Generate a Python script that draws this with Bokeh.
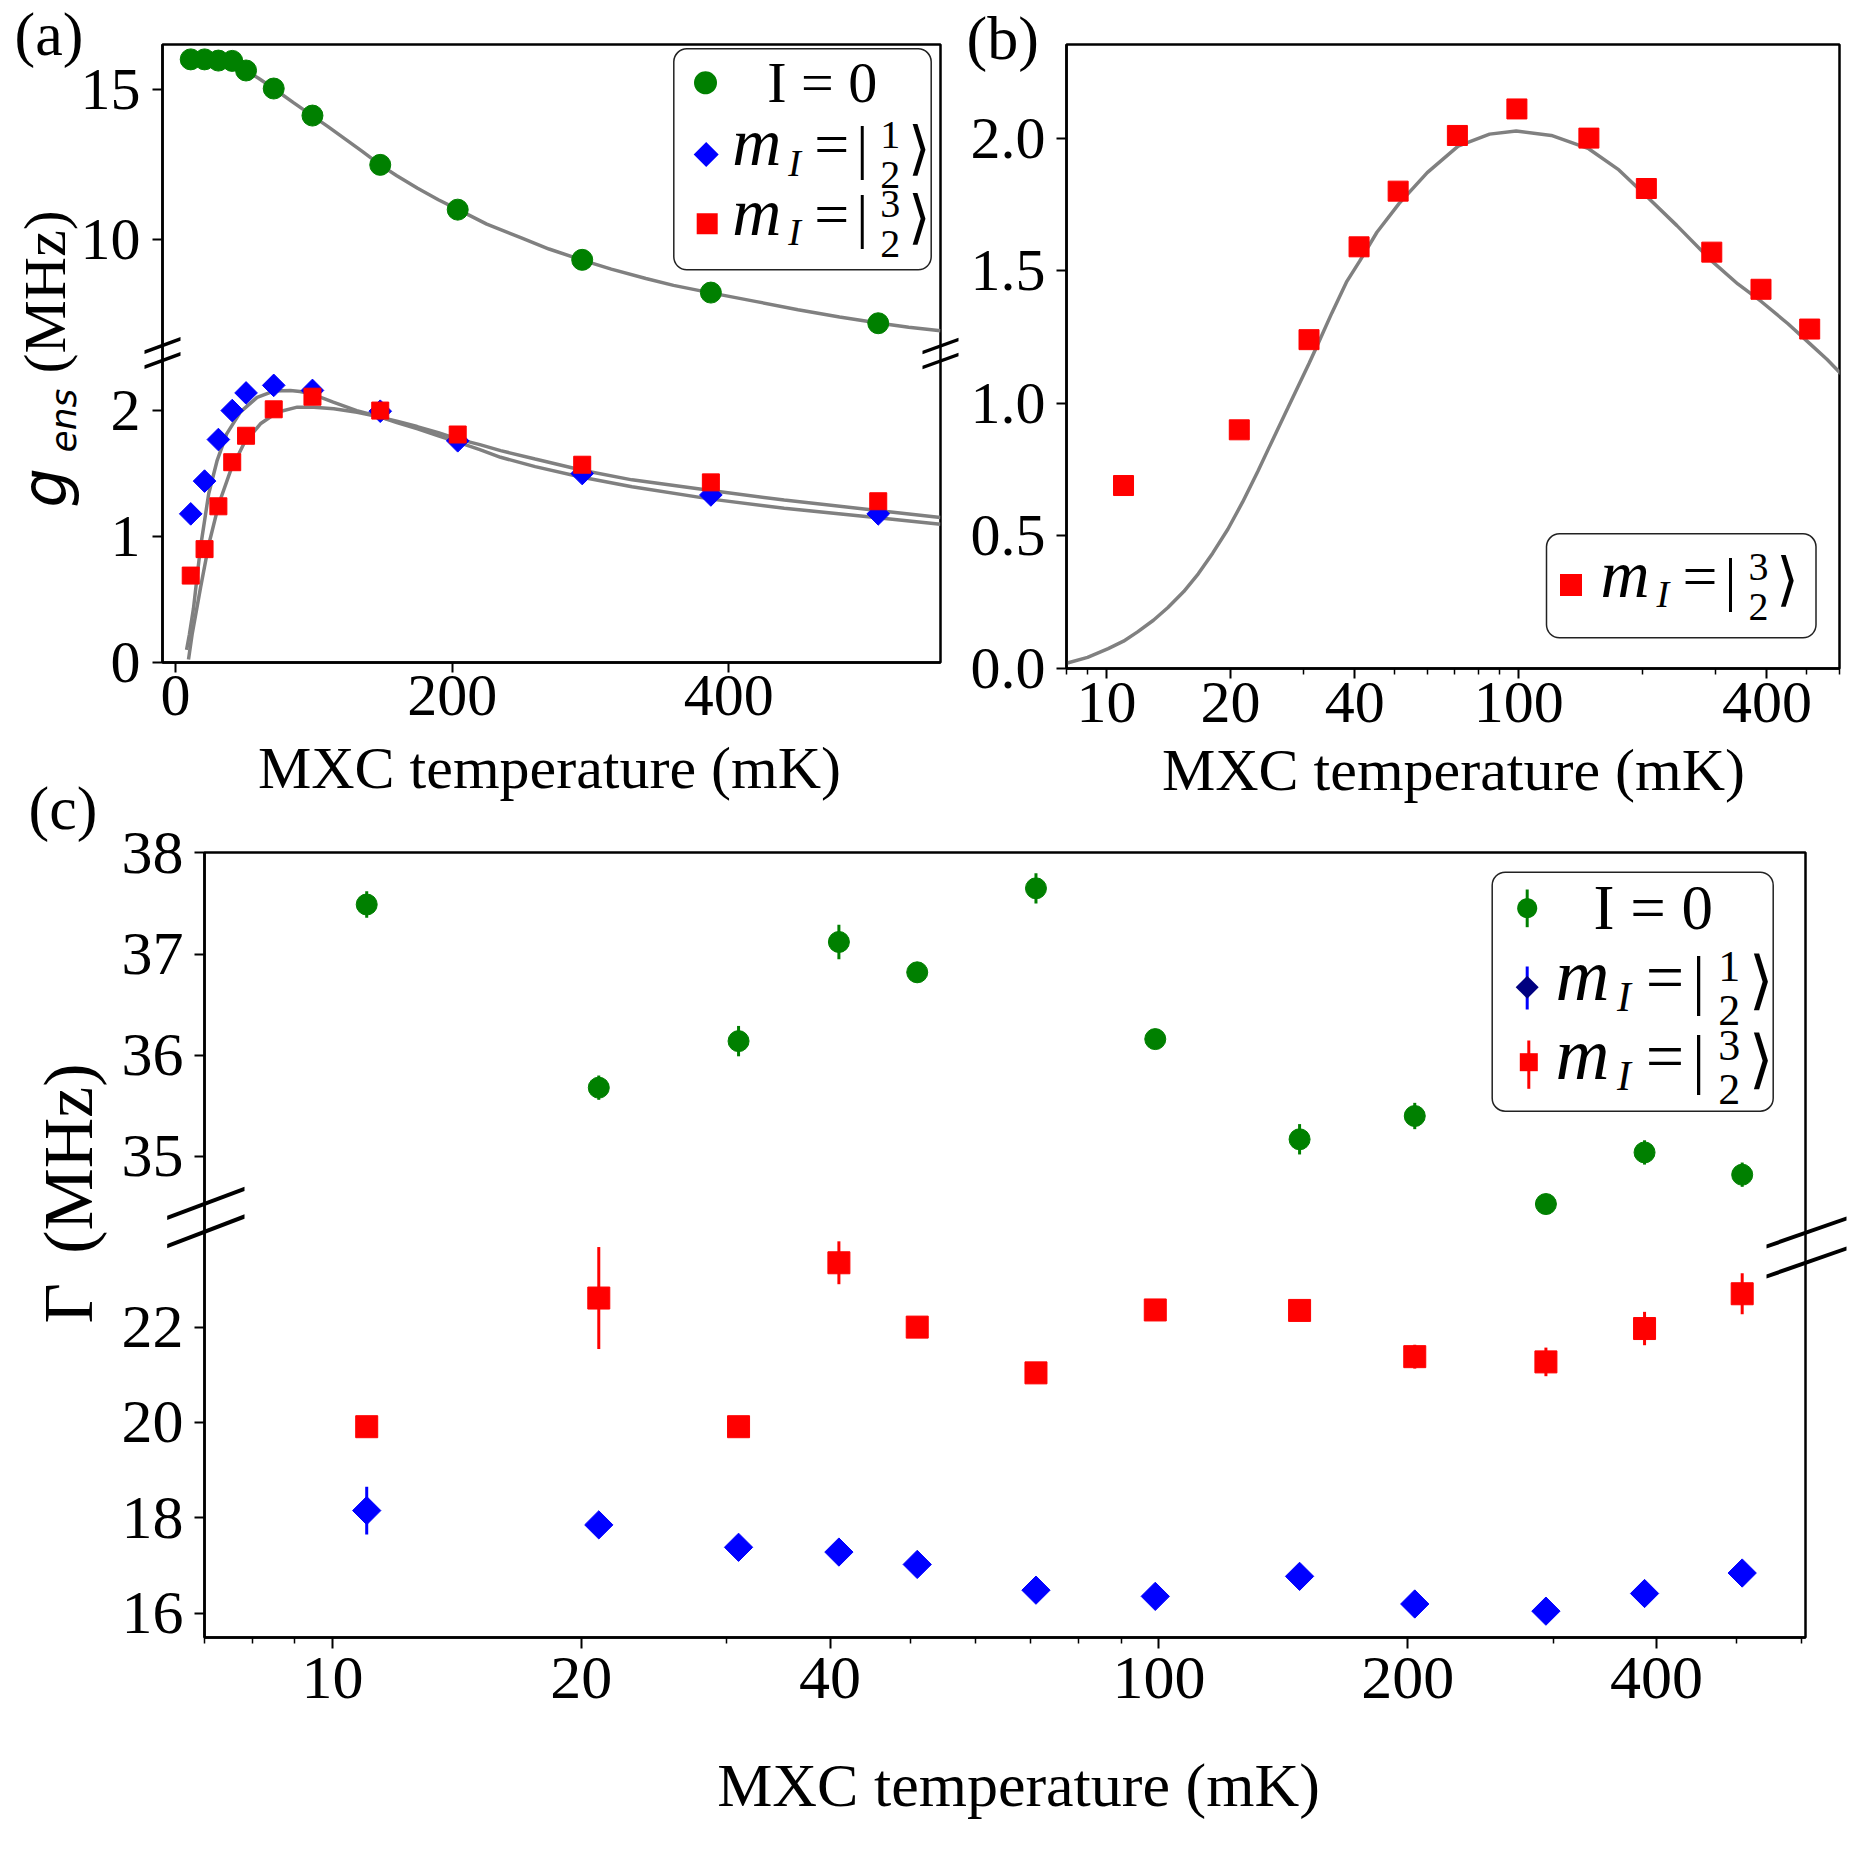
import math
from bokeh.plotting import figure
from bokeh.layouts import column, row
from bokeh.models import (Range1d, FixedTicker, Label, BoxAnnotation, PolyAnnotation,
                          NumeralTickFormatter, BasicTickFormatter)
from bokeh.embed import file_html
from bokeh.resources import INLINE

# ---------------- data ----------------
T = [11, 21, 31, 41, 51, 71, 99, 148, 204, 294, 387, 508]          # MXC temperature (mK)

# (a) / (b) coupling strengths (MHz)
g_I0 = [16.01, 16.01, 15.97, 15.96, 15.64, 15.04, 14.14, 12.50, 11.01, 9.34, 8.25, 7.23]
g_half = [1.18, 1.44, 1.77, 2.00, 2.14, 2.20, 2.16, 1.995, 1.76, 1.50, 1.33, 1.18]
g_3half = [0.69, 0.90, 1.24, 1.59, 1.80, 2.01, 2.11, 2.00, 1.81, 1.57, 1.43, 1.28]

# fit curves
fitT_I0 = [8, 20, 30, 40, 50, 60, 71, 85, 99, 110, 120, 135, 148, 160, 175, 190, 204, 225, 250,
           270, 294, 315, 340, 360, 387, 420, 450, 480, 508, 530, 553]
fit_I0 = [16.02, 16.01, 15.97, 15.88, 15.66, 15.38, 15.04, 14.58, 14.13, 13.78, 13.45, 12.95,
          12.50, 12.14, 11.72, 11.34, 11.02, 10.53, 10.07, 9.70, 9.33, 9.03, 8.72, 8.49, 8.24,
          7.95, 7.68, 7.44, 7.24, 7.10, 6.98]

fitT_half = [8, 10, 13, 18, 24, 30, 37, 47, 59, 71, 83, 90, 98, 114, 131, 147, 160, 175, 190,
             204, 220, 235, 260, 293, 330, 386, 440, 506, 553]
fit_half = [0.10, 0.22, 0.43, 0.91, 1.34, 1.60, 1.815, 1.99, 2.105, 2.155, 2.16, 2.152, 2.134,
            2.067, 2.0, 1.953, 1.905, 1.855, 1.80, 1.749, 1.69, 1.629, 1.555, 1.473, 1.395,
            1.299, 1.225, 1.151, 1.098]

fitT_3half_a = [9.4, 12, 18.1, 24.1, 31.3, 39.8, 49.4, 61.4, 73.5, 88, 100, 114.4, 131.3, 147,
                160, 174.7, 190, 203.6, 220, 235, 260, 294, 330, 387, 440, 509, 553]
fit_3half_a = [0.024, 0.223, 0.594, 0.939, 1.258, 1.523, 1.736, 1.895, 1.987, 2.027, 2.027, 2.014,
               1.987, 1.950, 1.915, 1.873, 1.825, 1.775, 1.73, 1.682, 1.615, 1.526, 1.45, 1.365,
               1.29, 1.205, 1.151]

fitT_3half_b = [8, 9, 10.1, 11, 11.9, 13, 14.1, 15.4, 16.7, 18.1, 19.7, 21.4, 23.3, 25.3, 27.5,
                31, 32.5, 35.2, 38.3, 41.1, 45.3, 51.3, 60, 71.3, 85, 98.6, 120, 147.8, 175,
                204.5, 242, 294.6, 340, 387.5, 450, 509, 560, 605]
fit_3half_b = [0.02, 0.042, 0.075, 0.103, 0.138, 0.182, 0.23, 0.29, 0.357, 0.435, 0.525, 0.628,
               0.744, 0.862, 0.98, 1.15, 1.22, 1.34, 1.46, 1.535, 1.645, 1.754, 1.87, 1.97,
               2.015, 2.027, 2.01, 1.96, 1.88, 1.78, 1.67, 1.535, 1.45, 1.384, 1.30, 1.224,
               1.165, 1.111]

# (c) linewidths (MHz) with error bars
G_I0 = [37.49, 35.68, 36.14, 37.12, 36.82, 37.65, 36.16, 35.17, 35.40, 34.53, 35.04, 34.82]
G_I0_err = [0.13, 0.12, 0.15, 0.17, 0.10, 0.15, 0.08, 0.15, 0.13, 0.08, 0.12, 0.12]
G_half = [18.15, 17.85, 17.38, 17.28, 17.02, 16.48, 16.35, 16.77, 16.19, 16.04, 16.41, 16.84]
G_half_err = [0.50, 0.12, 0.12, 0.12, 0.12, 0.10, 0.10, 0.15, 0.12, 0.10, 0.12, 0.10]
G_3half = [19.91, 22.61, 19.91, 23.35, 22.00, 21.04, 22.36, 22.35, 21.38, 21.27, 21.97, 22.70]
G_3half_err = [0.12, 1.07, 0.10, 0.45, 0.12, 0.12, 0.15, 0.12, 0.25, 0.30, 0.35, 0.43]

# tick labels
A_XTICKS = [0, 200, 400]
A_LOW_TICKS = [0, 1, 2]
A_UP_TICKS = [10, 15]
B_XTICKS = [10, 20, 40, 100, 400]
B_XMINOR = [8, 9, 30, 50, 60, 70, 80, 90, 200, 300, 500, 600]
B_YTICKS = [0.0, 0.5, 1.0, 1.5, 2.0]
C_XTICKS = [10, 20, 40, 100, 200, 400]
C_XMINOR = [7, 8, 9, 30, 50, 60, 70, 80, 90, 300, 500, 600]
C_LOW_TICKS = [16, 18, 20, 22]
C_UP_TICKS = [35, 36, 37, 38]

# ---------------- helpers ----------------
FONT = "Liberation Serif"
U = "canvas"
PAGE_W, PAGE_H = 1847, 1827
SHIFT = 0.34   # correction of Label placement (fraction of font size, text-local downwards)

# transparent overlay figure covering the whole page: holds all texts and decorations
ov = figure(title=None, output_backend="svg", toolbar_location=None, width=PAGE_W, height=PAGE_H,
            min_border=0, min_border_left=0, min_border_right=0, min_border_top=0,
            min_border_bottom=0, x_axis_location=None, y_axis_location=None,
            x_range=Range1d(0, 1), y_range=Range1d(0, 1))
ov.grid.visible = False
ov.outline_line_color = None
ov.background_fill_color = None
ov.border_fill_color = None


def txt(s, x, y, size, font=FONT, style="normal", angle=0.0, align="left",
        baseline="alphabetic", color="black"):
    # move against the systematic downward offset, along the text's own "down" direction
    dx = -SHIFT * size * math.sin(angle)
    dy = -SHIFT * size * math.cos(angle)
    ov.add_layout(Label(x=x + dx, y=y + dy, x_units=U, y_units=U, text=s, text_font=font,
                        text_font_size=f"{size:.1f}px", text_font_style=style, angle=angle,
                        text_align=align, text_baseline=baseline, text_color=color))


def poly(xs, ys, color):
    ov.add_layout(PolyAnnotation(xs=list(xs), ys=list(ys), xs_units=U, ys_units=U,
                                 fill_color=color, fill_alpha=1.0, line_color=None))


def seg(x1, y1, x2, y2, w, color="black"):
    h = w / 2 * math.hypot(x2 - x1, y2 - y1) / abs(x2 - x1)
    poly([x1, x2, x2, x1], [y1 - h, y2 - h, y2 + h, y1 + h], color)


def m_circle(cx, cy, d, color):
    n = 40
    poly([cx + d / 2 * math.cos(2 * math.pi * i / n) for i in range(n)],
         [cy + d / 2 * math.sin(2 * math.pi * i / n) for i in range(n)], color)


def m_diamond(cx, cy, dg, color):
    r = dg / 2
    poly([cx, cx + r, cx, cx - r], [cy - r, cy, cy + r, cy], color)


def m_square(cx, cy, s, color):
    r = s / 2
    poly([cx - r, cx + r, cx + r, cx - r], [cy - r, cy - r, cy + r, cy + r], color)


def vbar_line(cx, y1, y2, w, color):
    poly([cx - w / 2, cx + w / 2, cx + w / 2, cx - w / 2], [y1, y1, y2, y2], color)


def legend_box(l, r, t, b):
    ov.add_layout(BoxAnnotation(left=l, right=r, top=t, bottom=b,
                                left_units=U, right_units=U, top_units=U, bottom_units=U,
                                border_radius=13, fill_color="white", fill_alpha=1.0,
                                line_color="#222222", line_width=1.5, line_alpha=1.0))


def math_label(mx, base, num, k=1.0):
    txt("m", mx, base, 68 * k, style="italic")
    txt("I", mx + 56 * k, base + 10 * k, 38 * k, style="italic")
    txt("=", mx + 82 * k, base, 62 * k)
    txt("|", mx + 124 * k, base + 2 * k, 60 * k)
    txt(num, mx + 158 * k, base - 17 * k, 40 * k, align="center")
    txt("2", mx + 158 * k, base + 23 * k, 40 * k, align="center")
    txt("\u27e9", mx + 187 * k, base + 2 * k, 58 * k, font="DejaVu Sans", align="center")


def style(p, size):
    for ax in p.axis:
        ax.major_label_text_font = FONT
        ax.major_label_text_font_size = f"{size}px"
        ax.major_label_text_color = "black"
        ax.axis_line_color = "black"
        ax.axis_line_width = 2.5
        ax.major_tick_line_color = "black"
        ax.major_tick_line_width = 2
        ax.major_tick_out = 10
        ax.major_tick_in = 0
        ax.minor_tick_line_color = "black"
        ax.minor_tick_line_width = 1.5
        ax.minor_tick_out = 6
        ax.minor_tick_in = 0
    p.xgrid.visible = False
    p.ygrid.visible = False
    p.outline_line_color = "black"
    p.outline_line_width = 2.5
    p.outline_line_alpha = 1.0
    p.background_fill_color = "white"


def broken_ranges(low, up, fh, h_low):
    lo_end = low[0] + (low[1] - low[0]) * fh / h_low
    up_start = up[1] - (up[1] - up[0]) * fh / (fh - h_low)
    return lo_end, up_start


def up_to_low(v, low0, lo_end, up_start, up_end):
    return round(low0 + (v - up_start) / (up_end - up_start) * (lo_end - low0), 6)


LW = 3.5  # fit line width

# ---------------- panel (a) ----------------
A_X = (-9.4, 553)
A_LOW = (0.0, 2.457)
A_UP = (6.24, 16.505)
A_FW, A_FH, A_HLOW = 778, 618, 309.5
a_lo_end, a_up_start = broken_ranges(A_LOW, A_UP, A_FH, A_HLOW)

pa = figure(title=None, output_backend="svg", toolbar_location=None,
            frame_width=A_FW, frame_height=A_FH,
            min_border_left=162, min_border_right=20, min_border_top=44, min_border_bottom=146,
            x_range=Range1d(*A_X), y_range=Range1d(A_LOW[0], a_lo_end))
pa.extra_y_ranges = {"up": Range1d(a_up_start, A_UP[1])}
style(pa, 60)
a_ticks = [float(t) for t in A_LOW_TICKS] + [up_to_low(v, A_LOW[0], a_lo_end, a_up_start, A_UP[1]) for v in A_UP_TICKS]
a_labels = [str(t) for t in A_LOW_TICKS] + [str(t) for t in A_UP_TICKS]
pa.yaxis.ticker = FixedTicker(ticks=a_ticks, minor_ticks=[])
pa.yaxis.major_label_overrides = {k: v for k, v in zip(a_ticks, a_labels)}
pa.yaxis.major_label_standoff = 12
pa.xaxis.ticker = FixedTicker(ticks=A_XTICKS, minor_ticks=[])
pa.xaxis.formatter = BasicTickFormatter()
pa.xaxis.major_label_standoff = 3

pa.line(fitT_half, fit_half, line_color="gray", line_width=LW)
pa.line(fitT_3half_a, fit_3half_a, line_color="gray", line_width=LW)
pa.line(fitT_I0, fit_I0, line_color="gray", line_width=LW, y_range_name="up")
pa.scatter(T, g_I0, marker="circle", size=21, fill_color="green", line_color="green", y_range_name="up")
pa.scatter(T, g_half, marker="square", angle=math.pi / 4, size=16, fill_color="blue", line_color="blue")
pa.scatter(T, g_3half, marker="square", size=17, fill_color="red", line_color="red")

# ---------------- panel (b) ----------------
pb = figure(title=None, output_backend="svg", toolbar_location=None, x_axis_type="log",
            frame_width=773, frame_height=624,
            min_border_left=106, min_border_right=8, min_border_top=40, min_border_bottom=144,
            x_range=Range1d(8, 600), y_range=Range1d(0, 2.353))
style(pb, 60)
pb.xaxis.ticker = FixedTicker(ticks=B_XTICKS, minor_ticks=B_XMINOR)
pb.xaxis.formatter = BasicTickFormatter()
pb.xaxis.major_label_standoff = 4
pb.yaxis.ticker = FixedTicker(ticks=B_YTICKS, minor_ticks=[])
pb.yaxis.formatter = NumeralTickFormatter(format="0.0")
pb.yaxis.major_label_standoff = 11

pb.line(fitT_3half_b, fit_3half_b, line_color="gray", line_width=LW)
pb.scatter(T, g_3half, marker="square", size=20, fill_color="red", line_color="red")

# ---------------- panel (c) ----------------
C_LOW = (15.487, 24.30)
C_UP = (34.397, 38.004)
C_FW, C_FH, C_HLOW = 1601, 785, 420
c_lo_end, c_up_start = broken_ranges(C_LOW, C_UP, C_FH, C_HLOW)

pc = figure(title=None, output_backend="svg", toolbar_location=None, x_axis_type="log",
            frame_width=C_FW, frame_height=C_FH,
            min_border_left=204, min_border_right=42, min_border_top=44, min_border_bottom=190,
            x_range=Range1d(7, 606), y_range=Range1d(C_LOW[0], c_lo_end))
pc.extra_y_ranges = {"up": Range1d(c_up_start, C_UP[1])}
style(pc, 62)
c_ticks = [float(t) for t in C_LOW_TICKS] + [up_to_low(v, C_LOW[0], c_lo_end, c_up_start, C_UP[1]) for v in C_UP_TICKS]
c_labels = [str(t) for t in C_LOW_TICKS] + [str(t) for t in C_UP_TICKS]
pc.yaxis.ticker = FixedTicker(ticks=c_ticks, minor_ticks=[])
pc.yaxis.major_label_overrides = {k: v for k, v in zip(c_ticks, c_labels)}
pc.yaxis.major_label_standoff = 11
pc.xaxis.ticker = FixedTicker(ticks=C_XTICKS, minor_ticks=C_XMINOR)
pc.xaxis.formatter = BasicTickFormatter()
pc.xaxis.major_tick_out = 11
pc.xaxis.major_label_standoff = 9


def lo(v, e):
    return [a - b for a, b in zip(v, e)]


def hi(v, e):
    return [a + b for a, b in zip(v, e)]


pc.segment(x0=T, y0=lo(G_I0, G_I0_err), x1=T, y1=hi(G_I0, G_I0_err), line_color="green",
           line_width=3, y_range_name="up")
pc.scatter(T, G_I0, marker="circle", size=21, fill_color="green", line_color="green", y_range_name="up")
pc.segment(x0=T, y0=lo(G_half, G_half_err), x1=T, y1=hi(G_half, G_half_err), line_color="blue", line_width=3)
pc.scatter(T, G_half, marker="square", angle=math.pi / 4, size=20, fill_color="blue", line_color="blue")
pc.segment(x0=T, y0=lo(G_3half, G_3half_err), x1=T, y1=hi(G_3half, G_3half_err), line_color="red", line_width=3)
pc.scatter(T, G_3half, marker="square", size=22, fill_color="red", line_color="red")

# ---------------- overlay: texts, legends, axis-break marks ----------------
# (a)
seg(144, 351.7, 180, 338.3, 3.5)
seg(144, 366.7, 180, 353.3, 3.5)
seg(922, 352.0, 958, 339.0, 3.5)
seg(922, 367.0, 958, 354.0, 3.5)
txt("(a)", 14, 55, 62)
txt("g", 65, 507, 62, font="DejaVu Sans", style="italic", angle=math.pi / 2)
txt("ens", 75, 452, 36, font="DejaVu Sans", style="italic", angle=math.pi / 2)
txt("(MHz)", 65, 373, 60, angle=math.pi / 2)
txt("MXC temperature (mK)", 549, 788, 60, align="center")
legend_box(673.3, 930.7, 48.3, 269.3)
m_circle(705, 82.3, 23, "green")
m_diamond(705.7, 154, 25, "blue")
m_square(706.7, 223.3, 21, "red")
txt("I = 0", 766.7, 101.7, 58)
math_label(731.7, 165, "1")
math_label(731.7, 234.3, "3")

# (b)
txt("(b)", 966, 59, 62)
txt("MXC temperature (mK)", 1453, 790, 60, align="center")
legend_box(1546, 1815.5, 533.3, 637.3)
m_square(1570.5, 584.5, 22, "red")
math_label(1600, 596.7, "3")

# (c)
seg(166.7, 1217.3, 244, 1188.3, 4)
seg(166.7, 1245.7, 244, 1216.0, 4)
seg(1766, 1246, 1846, 1218, 4)
seg(1766, 1276, 1846, 1248, 4)
txt("(c)", 28, 829, 62)
txt("\u0393", 91.7, 1323, 70, angle=math.pi / 2)
txt("(MHz)", 91.7, 1253.3, 70, angle=math.pi / 2)
txt("MXC temperature (mK)", 1018, 1806, 62, align="center")
legend_box(1491.7, 1772.7, 871.7, 1110.7)
vbar_line(1526.7, 889, 926.7, 3, "green")
m_circle(1526.7, 907.7, 20, "green")
vbar_line(1526.7, 966, 1009, 3, "blue")
m_diamond(1526.7, 986.7, 23, "navy")
vbar_line(1528.3, 1040, 1088.3, 3, "red")
m_square(1528.3, 1061.7, 18, "red")
txt("I = 0", 1593, 929.3, 63)
math_label(1555, 999.3, "1", 1.1)
math_label(1555, 1078.3, "3", 1.1)

layout = column(row(pa, pb), row(pc), row(ov, margin=(-PAGE_H, 0, 0, 0)))
open("out.html", "w").write(file_html(layout, INLINE))
